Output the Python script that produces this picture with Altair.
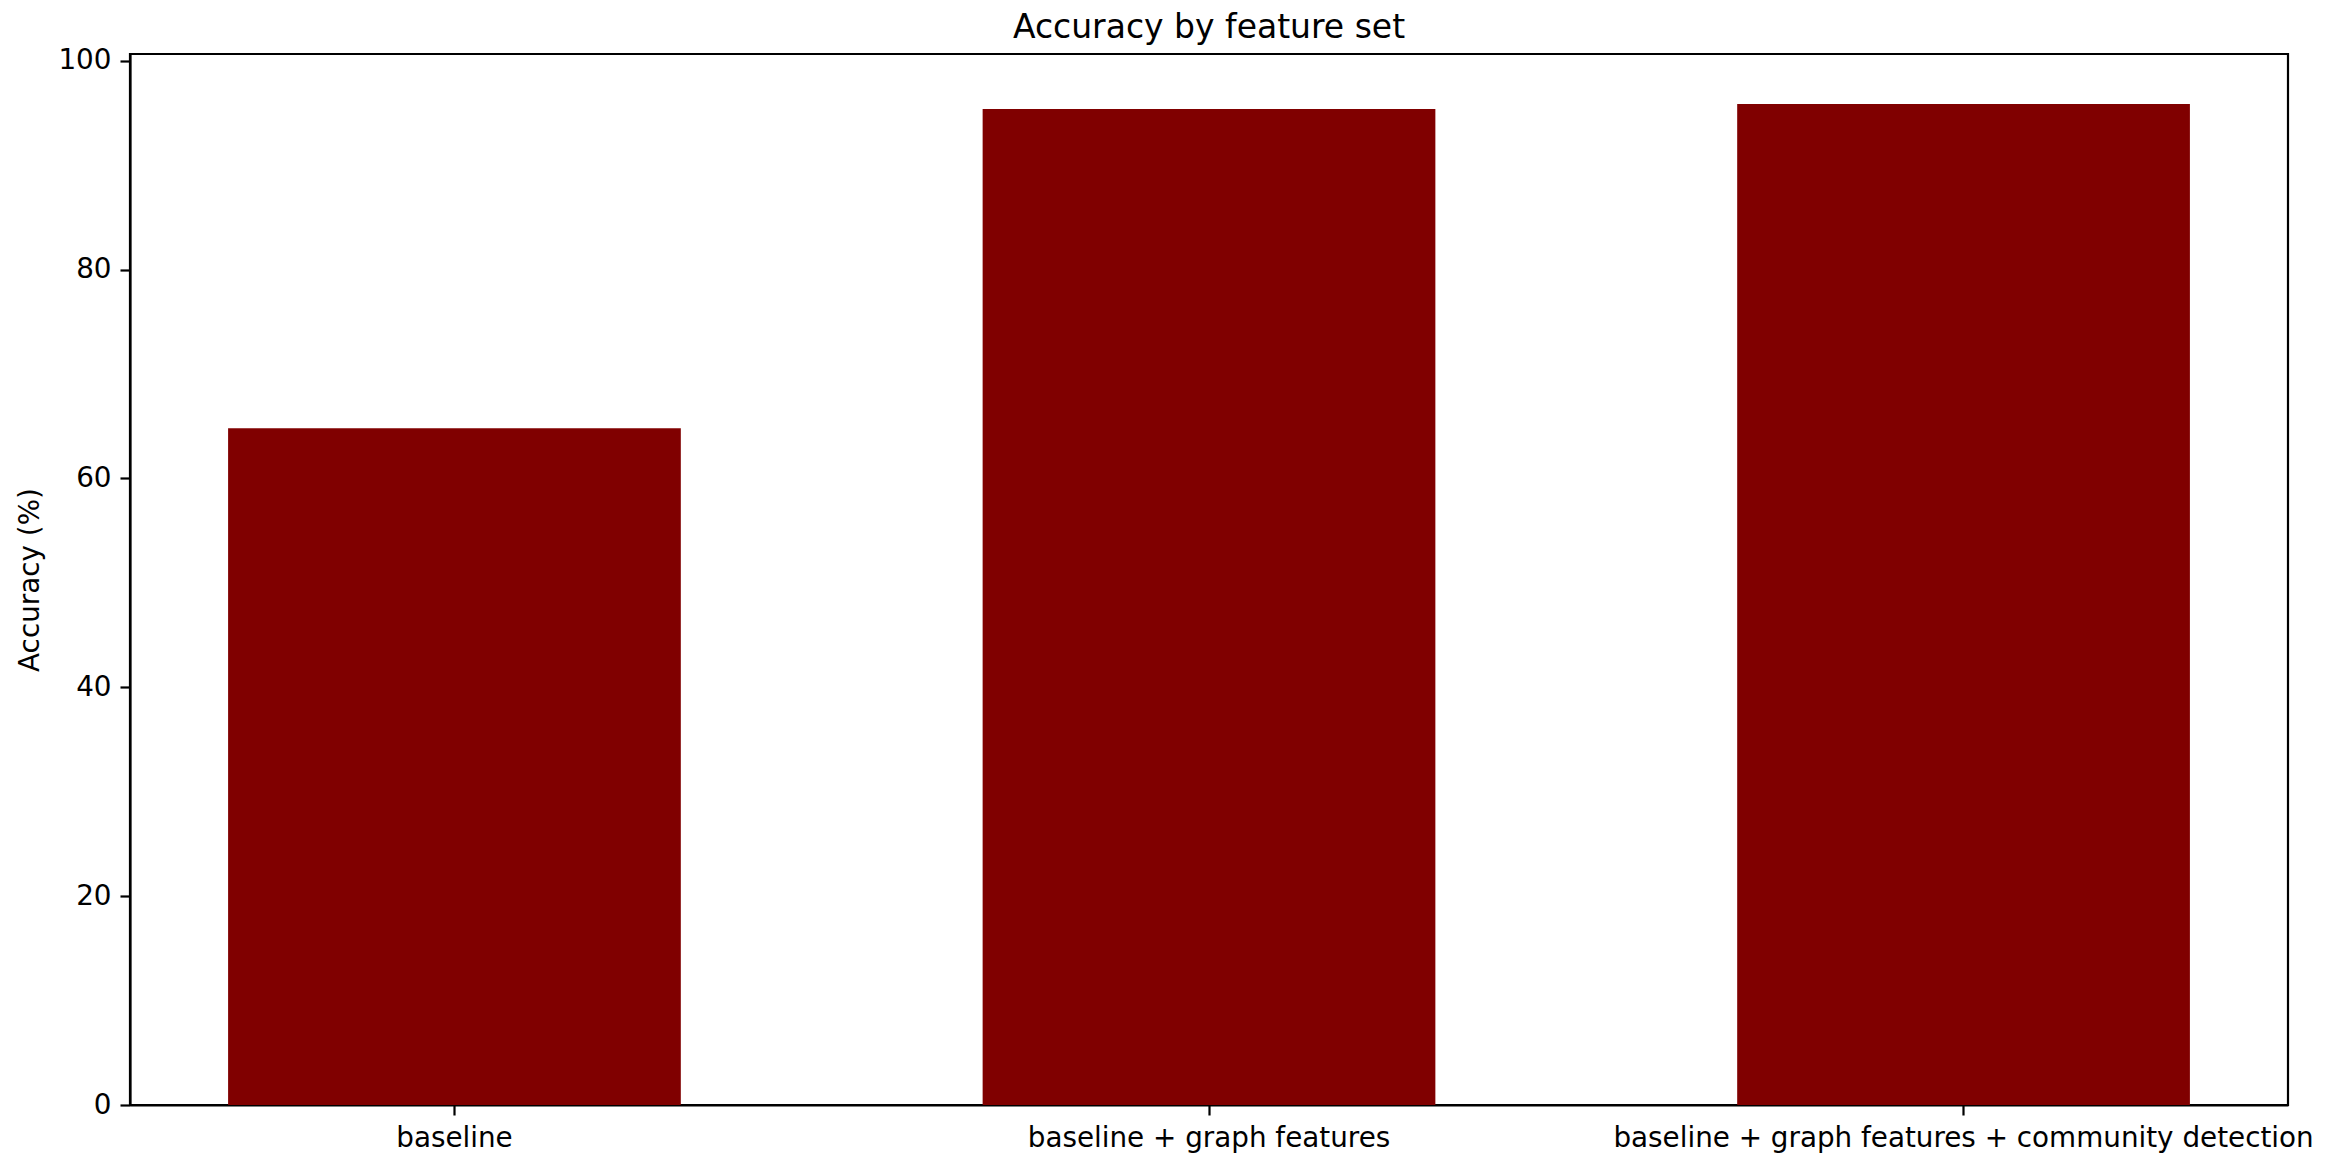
import altair as alt
import pandas as pd

feature_sets = [
    "baseline",
    "baseline + graph features",
    "baseline + graph features + community detection",
]
accuracy = [64.8, 95.37, 95.85]

df = pd.DataFrame({"feature_set": feature_sets, "accuracy": accuracy})

FONT = "DejaVu Sans"
W, H = 2158, 1051

chart = (
    alt.Chart(df)
    .mark_bar(color="#800000")
    .encode(
        x=alt.X(
            "feature_set:N",
            sort=None,
            title=None,
            scale=alt.Scale(paddingInner=0.4, paddingOuter=0.13),
            axis=alt.Axis(
                labelAngle=0,
                labelFontSize=27.8,
                labelFont=FONT,
                labelColor="black",
                labelPadding=9,
                labelLimit=2000,
                tickSize=10,
                tickWidth=2.2,
                tickColor="black",
                domainColor="black",
                domainWidth=2.2,
                grid=False,
            ),
        ),
        y=alt.Y(
            "accuracy:Q",
            title="Accuracy (%)",
            scale=alt.Scale(domain=[0, 100.64], nice=False, zero=True),
            axis=alt.Axis(
                values=[0, 20, 40, 60, 80, 100],
                labelFontSize=27.8,
                labelFont=FONT,
                labelColor="black",
                labelPadding=9,
                tickSize=10,
                tickWidth=2.2,
                tickColor="black",
                domainColor="black",
                domainWidth=2.2,
                grid=False,
                titleFont=FONT,
                titleFontSize=27.8,
                titleFontWeight="normal",
                titleColor="black",
                titleAngle=-90,
                titleX=-100,
                titleY=H / 2,
                titleAlign="center",
                titleBaseline="middle",
            ),
        ),
    )
    .properties(
        width=W,
        height=H,
        title=alt.TitleParams(
            "Accuracy by feature set",
            font=FONT,
            fontSize=33,
            fontWeight="normal",
            color="black",
            anchor="middle",
            frame="group",
            baseline="alphabetic",
            offset=3,
            dy=27,
        ),
        autosize=alt.AutoSizeParams(type="none"),
        padding={"left": 122, "top": 46, "right": 38, "bottom": 50},
    )
    .configure(background="white")
    .configure_view(stroke="black", strokeWidth=2.2)
)

chart.save("out.html", embed_options={"renderer": "svg", "actions": False})
